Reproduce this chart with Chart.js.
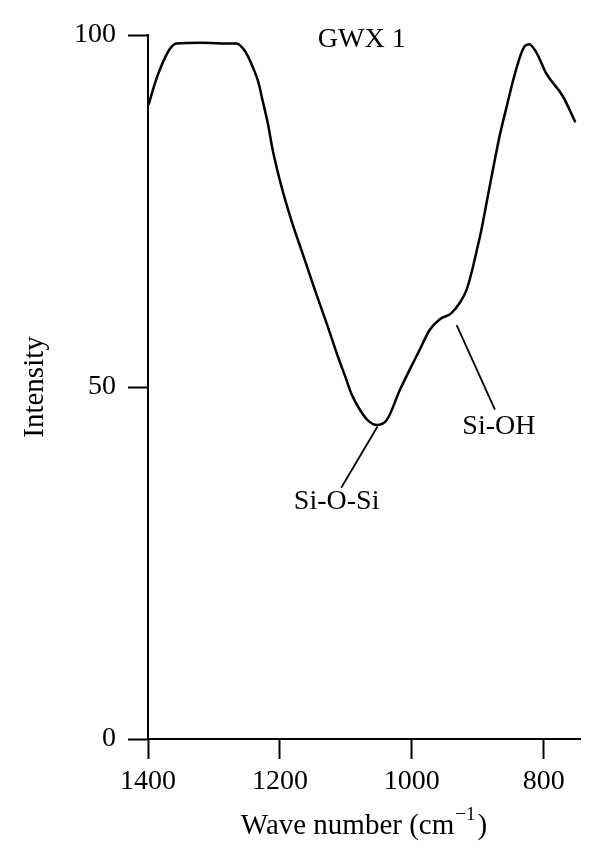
<!DOCTYPE html>
<html>
<head>
<meta charset="utf-8">
<script src="https://cdn.jsdelivr.net/npm/chart.js@4"></script>
<style>
  body { margin: 0; background: #fff; }
  canvas { display: block; }
</style>
</head>
<body>
<canvas id="chart" width="600" height="867"></canvas>
<script>
// Data (wave number in cm-1, intensity)
const wavenumbers = [1399, 1390, 1382, 1367, 1357, 1320, 1290, 1266, 1256, 1248, 1241, 1233, 1226, 1218,
  1211, 1198, 1182, 1165, 1147, 1129, 1112, 1101, 1091, 1079, 1067, 1053, 1038, 1018, 1003, 988, 973,
  958, 940, 927, 917, 909, 902, 895, 887, 877, 867, 856, 846, 836, 829, 822, 811, 796, 771, 752];
const intensity = [90.1, 93.0, 95.1, 98.0, 98.8, 98.9, 98.8, 98.8, 98.1, 96.9, 95.4, 93.4, 90.6, 87.3,
  83.7, 78.6, 73.5, 68.8, 63.8, 59.0, 54.3, 51.5, 48.9, 46.8, 45.3, 44.6, 45.3, 49.6, 52.5, 55.3, 58.1,
  59.6, 60.5, 62.0, 63.8, 66.4, 69.2, 72.1, 76.0, 80.9, 85.6, 89.9, 93.7, 96.9, 98.4, 98.7, 97.5, 94.5,
  91.3, 87.6];

const xTicks = [1400, 1200, 1000, 800];
const yTicks = [0, 50, 100];
const sampleName = 'GWX 1';
const bandLabels = ['Si-O-Si', 'Si-OH'];

const FONT = "'Liberation Serif', 'Times New Roman', serif";

// Leader lines and text for the band labels, in data coordinates
const bandNotes = [
  { from: [1052, 44.4], to: [1107, 35.7], text: [1114, 33.7] },
  { from: [932, 58.8], to: [874, 46.8], text: [868, 44.3] }
];

const annotations = {
  id: 'annotations',
  afterDatasetsDraw(chart) {
    const { ctx, scales: { x, y }, chartArea } = chart;
    ctx.save();
    ctx.fillStyle = '#000';
    ctx.strokeStyle = '#000';
    ctx.font = `28px ${FONT}`;
    ctx.textAlign = 'center';
    ctx.textBaseline = 'middle';

    // sample name
    ctx.fillText(sampleName, x.getPixelForValue(1076), y.getPixelForValue(99.4));

    // band labels with leader lines
    ctx.lineWidth = 1.8;
    bandNotes.forEach((n, i) => {
      ctx.beginPath();
      ctx.moveTo(x.getPixelForValue(n.from[0]), y.getPixelForValue(n.from[1]));
      ctx.lineTo(x.getPixelForValue(n.to[0]), y.getPixelForValue(n.to[1]));
      ctx.stroke();
      ctx.fillText(bandLabels[i], x.getPixelForValue(n.text[0]), y.getPixelForValue(n.text[1]));
    });

    // x axis title with superscript
    const main = 'Wave number (cm';
    const sup = '\u22121';
    ctx.font = `29px ${FONT}`;
    const wMain = ctx.measureText(main).width;
    ctx.font = `19px ${FONT}`;
    const wSup = ctx.measureText(sup).width + 3;
    ctx.font = `29px ${FONT}`;
    const wClose = ctx.measureText(')').width;
    const total = wMain + wSup + wClose;
    let cx = (chartArea.left + chartArea.right) / 2 - total / 2;
    const cy = 826;
    ctx.textAlign = 'left';
    ctx.fillText(main, cx, cy);
    cx += wMain;
    ctx.font = `19px ${FONT}`;
    ctx.fillText(sup, cx + 1, cy - 11);
    cx += wSup;
    ctx.font = `29px ${FONT}`;
    ctx.fillText(')', cx, cy);
    ctx.restore();
  }
};

new Chart(document.getElementById('chart'), {
  type: 'scatter',
  data: {
    datasets: [{
      data: wavenumbers.map((w, i) => ({ x: w, y: intensity[i] })),
      showLine: true,
      borderColor: '#000',
      borderWidth: 2.5,
      pointRadius: 0,
      cubicInterpolationMode: 'monotone',
      fill: false
    }]
  },
  options: {
    responsive: false,
    animation: false,
    layout: { padding: { top: 35, right: 20, left: 0, bottom: 0 } },
    plugins: {
      legend: { display: false },
      tooltip: { enabled: false }
    },
    scales: {
      x: {
        type: 'linear',
        reverse: true,
        min: 745,
        max: 1400,
        afterBuildTicks: (scale) => { scale.ticks = xTicks.map(v => ({ value: v })); },
        afterFit: (scale) => { scale.height = 128; },
        grid: { drawOnChartArea: false, tickLength: 20, tickWidth: 2, tickColor: '#000' },
        border: { display: true, color: '#000', width: 2 },
        ticks: {
          color: '#000',
          padding: 6,
          maxRotation: 0,
          callback: (v) => String(v),
          font: { family: FONT, size: 28 }
        },
        title: { display: false }
      },
      y: {
        min: 0,
        max: 100,
        afterBuildTicks: (scale) => { scale.ticks = yTicks.map(v => ({ value: v })); },
        afterFit: (scale) => { scale.width = 148; },
        grid: { drawOnChartArea: false, tickLength: 20, tickWidth: 2, tickColor: '#000' },
        border: { display: true, color: '#000', width: 2 },
        ticks: {
          color: '#000',
          padding: 12,
          callback: (v) => String(v),
          font: { family: FONT, size: 28 }
        },
        title: {
          display: true,
          text: 'Intensity',
          color: '#000',
          padding: { top: 18, bottom: 0 },
          font: { family: FONT, size: 29 }
        }
      }
    }
  },
  plugins: [annotations]
});
</script>
</body>
</html>
